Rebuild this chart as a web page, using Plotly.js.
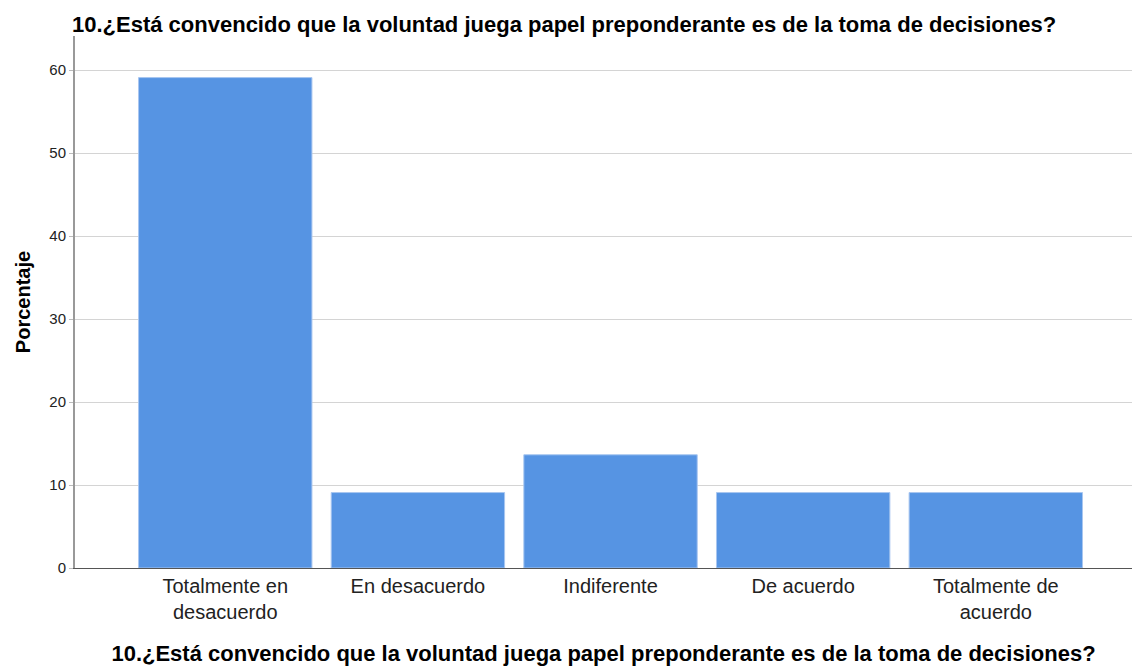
<!DOCTYPE html>
<html><head><meta charset="utf-8">
<script src="https://cdn.plot.ly/plotly-3.0.1.min.js"></script>
<style>html,body{margin:0;padding:0;background:#fff;}#chart{width:1132px;height:666px;}</style>
</head><body><div id="chart"></div>
<script>
const categories = ["Totalmente en<br>desacuerdo", "En desacuerdo", "Indiferente", "De acuerdo", "Totalmente de<br>acuerdo"];
const porcentaje = [59.09, 9.09, 13.64, 9.09, 9.09];
const yTicks = [0, 10, 20, 30, 40, 50, 60];
const titleText = "10.¿Está convencido que la voluntad juega papel preponderante es de la toma de decisiones?";

const trace = {
  type: "bar",
  x: categories,
  y: porcentaje,
  marker: {color: "#5694E3", line: {color: "#a8c6f0", width: 1}},
  hoverinfo: "x+y"
};

const layout = {
  width: 1132, height: 666,
  paper_bgcolor: "#fff", plot_bgcolor: "#fff",
  margin: {l: 75, r: 0, t: 36, b: 98},
  bargap: 0.1,
  showlegend: false,
  font: {family: "Liberation Sans, Arial, sans-serif", color: "#000"},
  title: {
    text: "<b>" + titleText + "</b>",
    font: {size: 22, family: "Liberation Sans, Arial, sans-serif", color: "#000"},
    x: 72/1132, xanchor: "left", xref: "container",
    y: 1 - 24.5/666, yanchor: "middle", yref: "container"
  },
  xaxis: {
    type: "category",
    range: [-0.78, 4.707],
    showgrid: false,
    showline: true, linecolor: "#555", linewidth: 1,
    ticks: "",
    tickfont: {size: 20, color: "#222"},
    title: {text: "<b>" + titleText + "</b>", font: {size: 22, color: "#000"}, standoff: 24},
    automargin: false,
    fixedrange: true
  },
  yaxis: {
    range: [0, 64.1],
    tickvals: yTicks,
    ticktext: yTicks.map(String),
    showgrid: true, gridcolor: "#d4d4d4", gridwidth: 1,
    zeroline: false,
    showline: true, linecolor: "#999", linewidth: 2,
    ticks: "outside", ticklen: 4, tickcolor: "#bbb",
    tickfont: {size: 15, color: "#222"},
    title: {text: "<b>Porcentaje</b>", font: {size: 20, color: "#000"}, standoff: 13},
    automargin: false,
    fixedrange: true
  }
};

Plotly.newPlot("chart", [trace], layout, {displayModeBar: false, staticPlot: true});
</script>
</body></html>
